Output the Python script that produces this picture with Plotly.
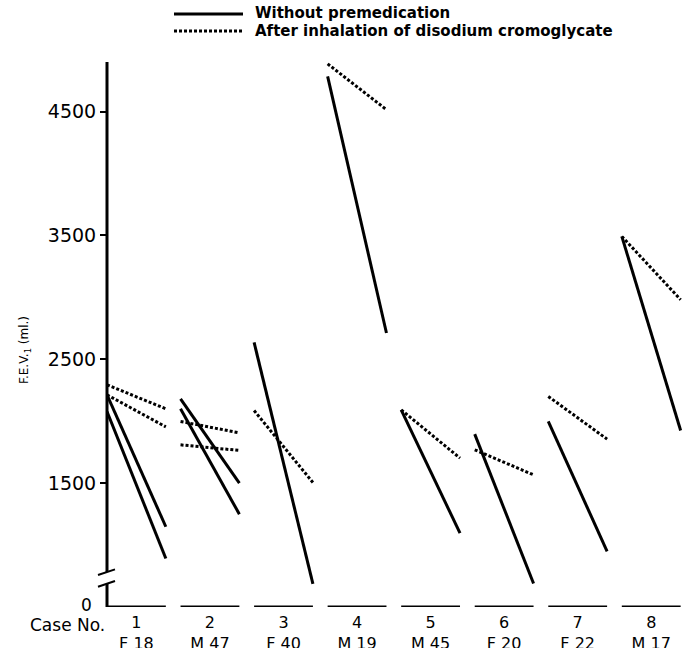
import plotly.graph_objects as go

# ---- data ----
cases = [1, 2, 3, 4, 5, 6, 7, 8]
case_info = ["F 18", "M 47", "F 40", "M 19", "M 45", "F 20", "F 22", "M 17"]

# Without premedication (solid): value before and after exercise
solid_case = [1, 1, 2, 2, 3, 4, 5, 6, 7, 8]
solid_before = [2213, 2078, 2181, 2100, 2636, 4784, 2092, 1896, 1998, 3492]
solid_after = [1148, 892, 1500, 1249, 687, 2712, 1096, 690, 950, 1925]

# After inhalation of disodium cromoglycate (dotted)
dotted_case = [1, 1, 2, 2, 3, 4, 5, 6, 7, 8]
dotted_before = [2294, 2213, 1998, 1809, 2086, 4885, 2092, 1769, 2200, 3492]
dotted_after = [2100, 1954, 1906, 1764, 1505, 4515, 1702, 1567, 1855, 2981]

y_ticks = [1500, 2500, 3500, 4500]
y_tick_text = ["1500", "2500", "3500", "4500"]

# ---- layout constants ----
HALF = 0.4          # half-width of each case's time span
Y0 = 500            # where the broken axis shows "0"
YTOP = 4900
FONT = "DejaVu Sans"
W, H = 695, 648
# plot area in pixels: x 107..688, y 62..607
ML, MT = 107, 62
MR = W - 688
MB = H - 607
PW, PH = W - ML - MR, H - MT - MB


def px_x(px):  # pixel -> paper
    return (px - ML) / PW


def px_y(py):
    return (H - MB - py) / PH


def segs(cs, a, b):
    xs, ys = [], []
    for c, v0, v1 in zip(cs, a, b):
        xs += [c - HALF, c + HALF, None]
        ys += [v0, v1, None]
    return xs, ys


fig = go.Figure()
xs, ys = segs(solid_case, solid_before, solid_after)
fig.add_trace(go.Scatter(x=xs, y=ys, mode="lines", name="Without premedication",
                         line=dict(color="black", width=3), showlegend=False,
                         hoverinfo="skip"))
xd, yd = segs(dotted_case, dotted_before, dotted_after)
fig.add_trace(go.Scatter(x=xd, y=yd, mode="lines",
                         name="After inhalation of disodium cromoglycate",
                         line=dict(color="black", width=3, dash="3px,2px"),
                         showlegend=False, hoverinfo="skip"))

shapes = []
# baseline segments, one per case
for c in cases:
    shapes.append(dict(type="line", xref="x", yref="y", x0=c - HALF, x1=c + HALF,
                       y0=Y0, y1=Y0, line=dict(color="black", width=3)))
# broken y axis
shapes.append(dict(type="line", xref="paper", yref="y", x0=0, x1=0, y0=Y0, y1=686,
                   line=dict(color="black", width=3)))
shapes.append(dict(type="line", xref="paper", yref="y", x0=0, x1=0, y0=783, y1=YTOP,
                   line=dict(color="black", width=3)))
shapes.append(dict(type="line", xref="paper", yref="y", x0=px_x(98), x1=px_x(115),
                   y0=664, y1=710, line=dict(color="black", width=2)))
shapes.append(dict(type="line", xref="paper", yref="y", x0=px_x(98), x1=px_x(115),
                   y0=758, y1=804, line=dict(color="black", width=2)))
# legend keys
shapes.append(dict(type="line", xref="paper", yref="paper", x0=px_x(174), x1=px_x(243),
                   y0=px_y(14), y1=px_y(14), line=dict(color="black", width=3)))
shapes.append(dict(type="line", xref="paper", yref="paper", x0=px_x(174), x1=px_x(243),
                   y0=px_y(31), y1=px_y(31),
                   line=dict(color="black", width=3, dash="3px,2px")))

annotations = [
    dict(xref="paper", yref="paper", x=px_x(253), y=px_y(13), xanchor="left",
         yanchor="middle", text="<b>Without premedication</b>", showarrow=False,
         font=dict(family=FONT, size=15, color="black")),
    dict(xref="paper", yref="paper", x=px_x(253), y=px_y(31), xanchor="left",
         yanchor="middle", text="<b>After inhalation of disodium cromoglycate</b>",
         showarrow=False, font=dict(family=FONT, size=15, color="black")),
    dict(xref="paper", yref="paper", x=px_x(25), y=px_y(350), xanchor="center",
         yanchor="middle", text="F.E.V.<sub>1</sub> (ml.)", textangle=-90,
         showarrow=False, font=dict(family=FONT, size=12, color="black")),
    dict(xref="paper", yref="paper", x=px_x(94), y=px_y(617), xanchor="right",
         yanchor="bottom", text="0", showarrow=False,
         font=dict(family=FONT, size=17, color="black")),
    dict(xref="paper", yref="paper", x=px_x(107), y=px_y(613), xanchor="right",
         yanchor="top", text="Case No.", showarrow=False,
         font=dict(family=FONT, size=17, color="black")),
]

fig.update_layout(
    width=W, height=H,
    margin=dict(l=ML, r=MR, t=MT, b=MB, autoexpand=False),
    paper_bgcolor="white", plot_bgcolor="white",
    shapes=shapes, annotations=annotations,
    font=dict(family=FONT, color="black"),
    xaxis=dict(range=[0.6, 8.5], showgrid=False, zeroline=False, showline=False,
               automargin=False, tickvals=cases,
               ticktext=[f"{c}<br>{s}" for c, s in zip(cases, case_info)],
               ticks="", ticklabelstandoff=4,
               tickfont=dict(family=FONT, size=16, color="black")),
    yaxis=dict(range=[Y0, YTOP], showgrid=False, zeroline=False, showline=False,
               automargin=False, tickvals=y_ticks, ticktext=y_tick_text,
               ticks="outside", ticklen=6, tickwidth=2, tickcolor="black",
               tickfont=dict(family=FONT, size=19, color="black")),
)

fig.write_html("out.html",
               config={"displayModeBar": False, "staticPlot": True},
               post_script="document.body.style.margin='0';"
                           "document.body.style.overflow='hidden';")
